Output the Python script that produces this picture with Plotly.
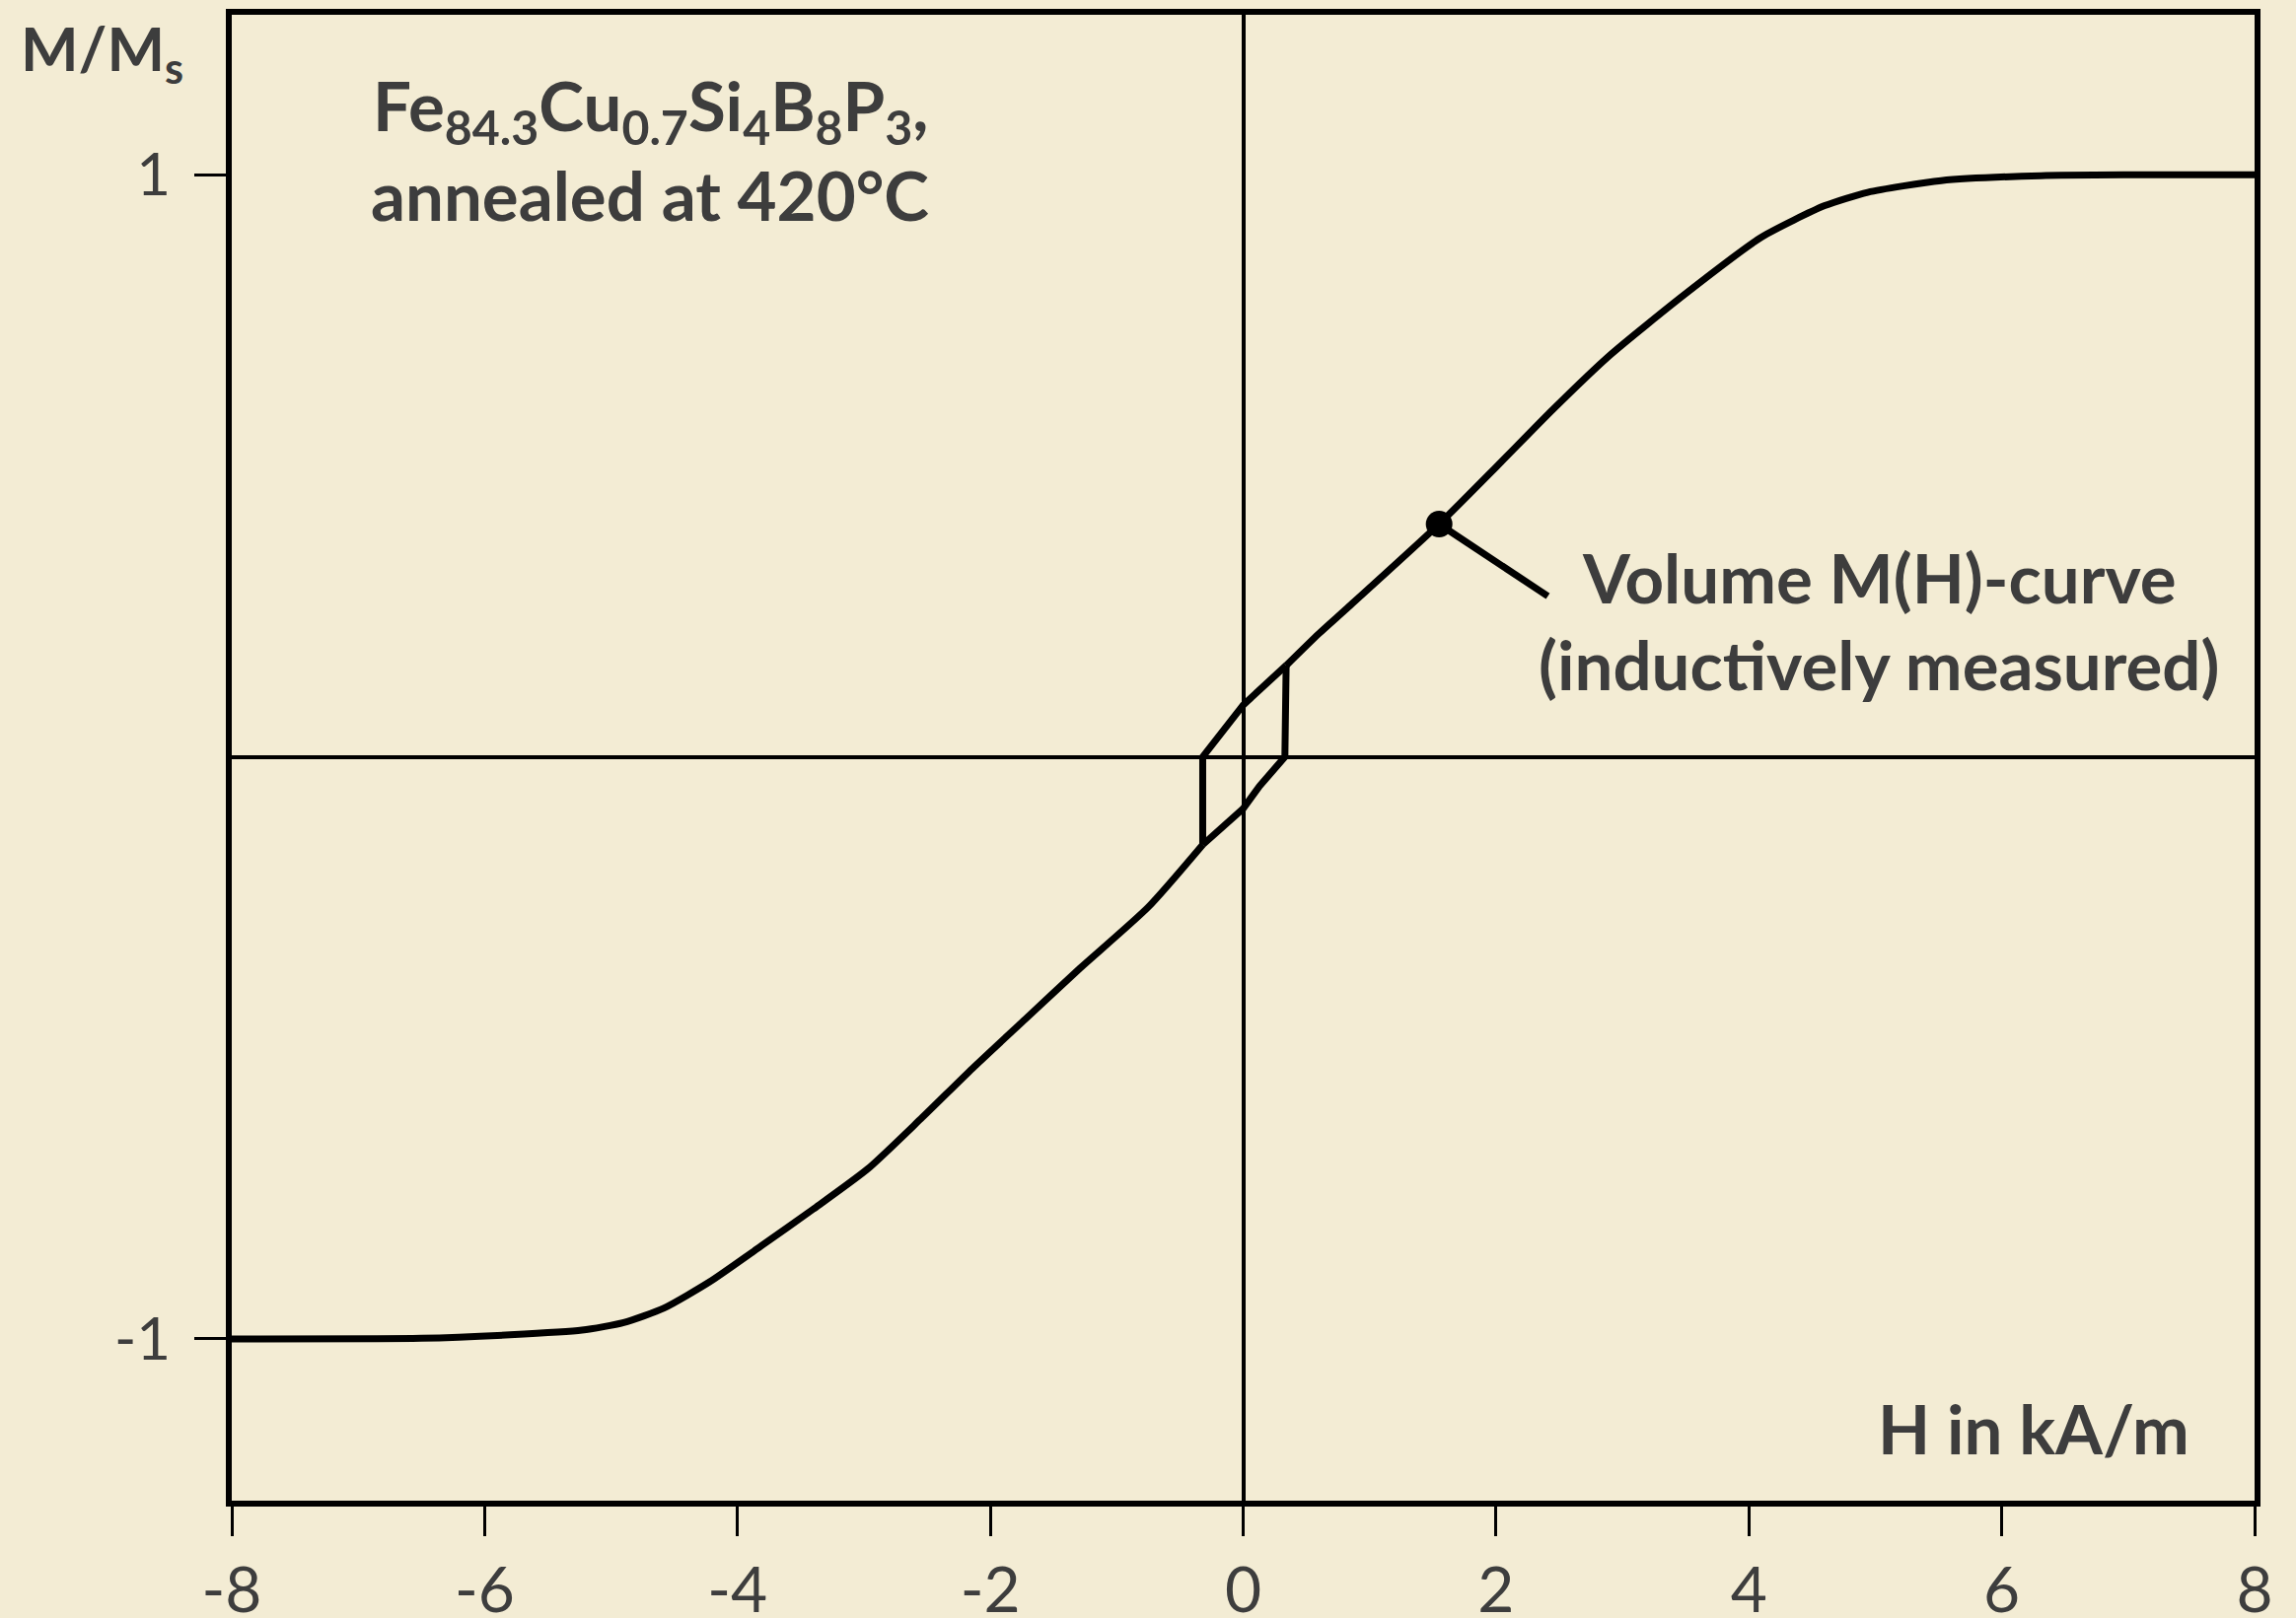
import plotly.graph_objects as go

# ---- data ----
# ascending branch, outer left part
H_left = [-8.0, -6.5, -5.8, -5.23, -4.9, -4.58, -4.22, -3.81, -3.4, -2.97, -2.55, -2.14, -1.72, -1.30, -0.75, -0.32]
M_left = [-1.0, -0.999, -0.993, -0.985, -0.972, -0.947, -0.902, -0.84, -0.777, -0.708, -0.622, -0.535, -0.45, -0.365, -0.258, -0.151]
# ascending branch through the lower side of the loop
H_loop_up = [-0.32, 0.0, 0.13, 0.33, 0.34]
M_loop_up = [-0.151, -0.089, -0.05, 0.0, 0.157]
# ascending branch, outer right part
H_right = [0.34, 0.6, 0.82, 1.55, 2.01, 2.45, 2.9, 3.5, 4.1, 4.6, 4.94, 5.52, 6.31, 7.0, 8.0]
M_right = [0.157, 0.212, 0.255, 0.40, 0.50, 0.597, 0.69, 0.796, 0.893, 0.947, 0.970, 0.990, 0.9986, 1.0, 1.0]
# descending branch inside the loop (upper side)
H_loop_down = [0.34, 0.0, -0.32, -0.32]
M_loop_down = [0.157, 0.089, 0.0, -0.151]

# labelled point and leader line
H_dot = [1.55]
M_dot = [0.40]
H_leader = [1.55, 2.41]
M_leader = [0.40, 0.276]

x_ticks = [-8, -6, -4, -2, 0, 2, 4, 6, 8]
x_ticklabels = ["-8", "-6", "-4", "-2", "0", "2", "4", "6", "8"]
y_ticks = [-1, 1]
y_ticklabels = ["-1", "1"]

BG = "#F3ECD4"
TXT = "#3d3d3d"
FONT = "Lato"
LW = 7

fig = go.Figure()
for hx, my, shape in [(H_left, M_left, "spline"), (H_loop_up, M_loop_up, "linear"),
                      (H_right, M_right, "spline"), (H_loop_down, M_loop_down, "linear")]:
    fig.add_trace(go.Scatter(x=hx, y=my, mode="lines",
                             line=dict(color="black", width=LW, shape=shape, smoothing=0.6),
                             showlegend=False))
fig.add_trace(go.Scatter(x=H_leader, y=M_leader, mode="lines",
                         line=dict(color="black", width=LW), showlegend=False))
fig.add_trace(go.Scatter(x=H_dot, y=M_dot, mode="markers",
                         marker=dict(color="black", size=27), showlegend=False))

bold = dict(family=FONT, size=69, color=TXT, weight="bold")

annots = [
    dict(x=-4.69, y=1.113, text="Fe<sub>84.3</sub>Cu<sub>0.7</sub>Si<sub>4</sub>B<sub>8</sub>P<sub>3</sub>,"),
    dict(x=-4.69, y=0.966, text="annealed at 420°C"),
    dict(x=5.03, y=0.308, text="Volume M(H)-curve"),
    dict(x=5.03, y=0.160, text="(inductively measured)"),
    dict(x=6.25, y=-1.154, text="H in kA/m"),
]
for a in annots:
    fig.add_annotation(x=a["x"], y=a["y"], text=a["text"], showarrow=False,
                       xref="x", yref="y", xanchor="center", yanchor="middle",
                       font=bold)
# y-axis title at the top left, outside the plot area
fig.add_annotation(x=-0.064, y=0.975, xref="paper", yref="paper", text="M/M<sub>s</sub>",
                   showarrow=False, xanchor="center", yanchor="middle",
                   font=dict(family=FONT, size=62, color=TXT, weight="bold"))

W, Hh = 2320, 1633
fig.update_layout(
    width=W, height=Hh,
    margin=dict(l=227, r=W - 2278, t=7, b=Hh - 1514, autoexpand=False),
    paper_bgcolor=BG, plot_bgcolor=BG,
    showlegend=False,
)
fig.update_xaxes(range=[-8, 8], tickvals=x_ticks, ticktext=x_ticklabels, ticks="outside",
                 ticklen=30, tickwidth=3,
                 tickcolor="black", showgrid=False, zeroline=True, zerolinecolor="black",
                 zerolinewidth=3.5, showline=True, linecolor="black", linewidth=6, mirror=True,
                 tickfont=dict(family=FONT, size=64, color=TXT), ticklabelstandoff=0,
                 automargin=False)
fig.update_yaxes(range=[-1.278, 1.275], tickvals=y_ticks, ticktext=y_ticklabels, ticks="outside",
                 ticklen=32, tickwidth=3, tickcolor="black", showgrid=False, zeroline=True,
                 zerolinecolor="black", zerolinewidth=3.5, showline=True, linecolor="black",
                 linewidth=6, mirror=True, tickfont=dict(family=FONT, size=60, color=TXT),
                 ticklabelstandoff=12, automargin=False)

fig.write_html("out.html",
               post_script="document.body.style.background='" + BG + "';")
